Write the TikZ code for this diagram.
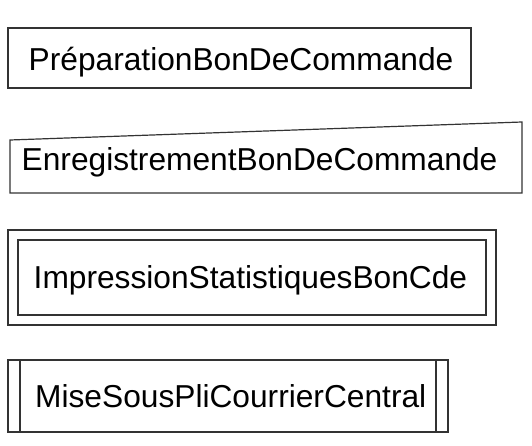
\documentclass[tikz,border=0pt]{standalone}
\usepackage{fontspec}
\setmainfont{Liberation Sans}
\begin{document}
\begin{tikzpicture}[x=1pt,y=-1pt,
  lbl/.style={inner sep=0pt, anchor=base west, font=\fontsize{31.7}{36}\selectfont},
  edge/.style={draw=black!80, line width=1.2pt}]
\useasboundingbox (0,0) rectangle (532,446);
% Box 1: plain rectangle
\draw[edge] (8,28) rectangle (471,88);
\node[lbl] (prep) at (28.5,70.5) {PréparationBonDeCommande};
% Box 2: manual input (slanted top)
\draw[edge] (10,140) -- (522,122) -- (522,193) -- (10,193) -- cycle;
\node[lbl] (enr) at (21.5,170.5) {EnregistrementBonDeCommande};
% Box 3: double rectangle
\draw[edge] (8,230) rectangle (496,325);
\draw[edge] (18,240) rectangle (486,315);
\node[lbl] (imp) at (33.5,288.3) {ImpressionStatistiquesBonCde};
% Box 4: predefined process
\draw[edge] (8,360) rectangle (448,432);
\draw[edge] (20,360) -- (20,432);
\draw[edge] (436,360) -- (436,432);
\node[lbl] (mise) at (35,407.7) {MiseSousPliCourrierCentral};
\end{tikzpicture}
\end{document}
